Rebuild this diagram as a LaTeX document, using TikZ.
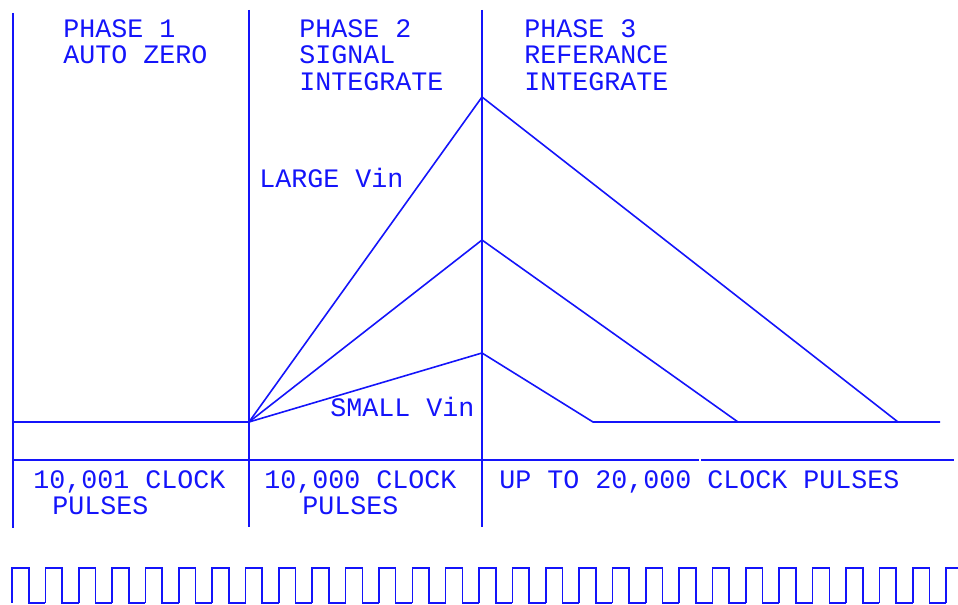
\documentclass[tikz,border=0pt]{standalone}
\usepackage{fontspec}
\setmonofont{Liberation Mono}
\usepackage{tikz}
\usetikzlibrary{positioning,calc}
\definecolor{penblue}{RGB}{20,20,250}

\begin{document}
\begin{tikzpicture}[
    x=0.75pt, y=-0.75pt,
    pen/.style={draw=penblue, line width=1.2pt},
    lbl/.style={anchor=base west, inner sep=0pt, text=penblue, font=\ttfamily\fontsize{20}{26}\selectfont}
]
\useasboundingbox (0,0) rectangle (958,605);

% Key points
\coordinate (start) at (249,422);
\coordinate (pklarge) at (482,97);
\coordinate (pkmid) at (482,240);
\coordinate (pksmall) at (482,353);
\coordinate (endsmall) at (593,422);
\coordinate (endmid) at (738,422);
\coordinate (endlarge) at (898,422);

% Phase dividers
\draw[pen] (13,13) -- (13,528);
\draw[pen] (249,10) -- (249,527);
\draw[pen] (482,10) -- (482,527);
\draw[pen] (13,460) -- (699,460);
\draw[pen] (701,460) -- (954,460);

% Integrator output
\draw[pen] (13,422) -- (start);
\draw[pen] (start) -- (pklarge) -- (endlarge);
\draw[pen] (start) -- (pkmid) -- (endmid);
\draw[pen] (start) -- (pksmall) -- (endsmall) -- (940,422);

% Phase titles
\node[lbl] (ph1) at (63,38) {PHASE 1};
\node[lbl] (ph1b) at (63,64) {AUTO ZERO};
\node[lbl] (ph2) at (299,38) {PHASE 2};
\node[lbl] (ph2b) at (299,64) {SIGNAL};
\node[lbl] (ph2c) at (299,91) {INTEGRATE};
\node[lbl] (ph3) at (524,38) {PHASE 3};
\node[lbl] (ph3b) at (524,64) {REFERANCE};
\node[lbl] (ph3c) at (524,91) {INTEGRATE};

% Vin labels
\node[lbl] (large) at (259,188) {LARGE Vin};
\node[lbl] (small) at (330,417) {SMALL Vin};

% Pulse counts
\node[lbl] (cnt1) at (33,489) {10,001 CLOCK};
\node[lbl] (cnt1b) at (52,515) {PULSES};
\node[lbl] (cnt2) at (264,489) {10,000 CLOCK};
\node[lbl] (cnt2b) at (302,515) {PULSES};
\node[lbl] (cnt3) at (499,489) {UP TO 20,000 CLOCK PULSES};

% Clock
\foreach \k in {0,...,27}
  \draw[pen] ({12+33.36*\k},603) -- ({12+33.36*\k},568) -- ({28.7+33.36*\k},568)
    -- ({28.7+33.36*\k},603) -- ({45.36+33.36*\k},603);
\draw[pen] (946,603) -- (946,568) -- (958,568);

\end{tikzpicture}
\end{document}
